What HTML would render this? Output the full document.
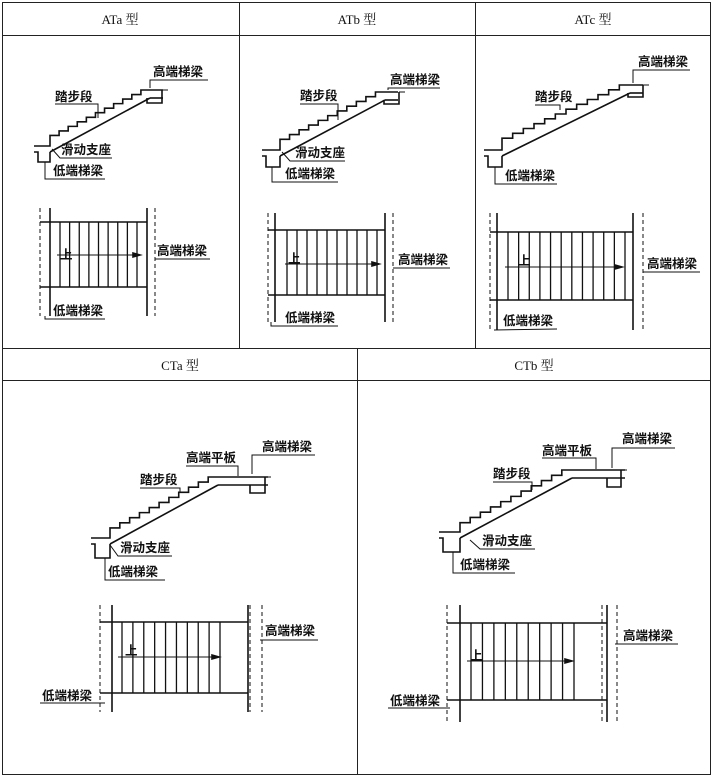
<!DOCTYPE html>
<html><head><meta charset="utf-8"><style>
body{margin:0;background:#fff}
svg{display:block}
text{font-family:"Liberation Serif","Noto Serif CJK SC",serif;font-size:13px;fill:#111}
.h{font-size:13px}
.l{font-family:"Liberation Sans","Noto Sans CJK SC",sans-serif;font-size:12.5px;font-weight:bold}
</style></head><body>
<svg id="s" width="713" height="777" viewBox="0 0 713 777" xmlns="http://www.w3.org/2000/svg">
<g fill="none" stroke="#222" stroke-width="1">
<rect x="2.5" y="2.5" width="708" height="772"/>
<line x1="2" y1="35.5" x2="711" y2="35.5"/>
<line x1="2" y1="348.5" x2="711" y2="348.5"/>
<line x1="2" y1="380.5" x2="711" y2="380.5"/>
<line x1="239.5" y1="2" x2="239.5" y2="348"/>
<line x1="475.5" y1="2" x2="475.5" y2="348"/>
<line x1="357.5" y1="348" x2="357.5" y2="775"/>
</g>
<text class="h" x="120" y="24" text-anchor="middle">ATa 型</text>
<text class="h" x="357" y="24" text-anchor="middle">ATb 型</text>
<text class="h" x="593" y="24" text-anchor="middle">ATc 型</text>
<text class="h" x="180" y="370" text-anchor="middle">CTa 型</text>
<text class="h" x="534" y="370" text-anchor="middle">CTb 型</text>
<g id="d" fill="none" stroke="#111" stroke-width="1.6"></g>
<!-- labels -->
<text class="l" x="153" y="76">高端梯梁</text>
<text class="l" x="55" y="101">踏步段</text>
<text class="l" x="61" y="154">滑动支座</text>
<text class="l" x="53" y="175">低端梯梁</text>
<text class="l" x="157" y="255">高端梯梁</text>
<text class="l" x="53" y="315">低端梯梁</text>

<text class="l" x="390" y="84">高端梯梁</text>
<text class="l" x="300" y="100">踏步段</text>
<text class="l" x="295" y="157">滑动支座</text>
<text class="l" x="285" y="178">低端梯梁</text>
<text class="l" x="398" y="264">高端梯梁</text>
<text class="l" x="285" y="322">低端梯梁</text>

<text class="l" x="638" y="66">高端梯梁</text>
<text class="l" x="535" y="101">踏步段</text>
<text class="l" x="505" y="180">低端梯梁</text>
<text class="l" x="647" y="268">高端梯梁</text>
<text class="l" x="503" y="325">低端梯梁</text>

<text class="l" x="262" y="451">高端梯梁</text>
<text class="l" x="186" y="462">高端平板</text>
<text class="l" x="140" y="484">踏步段</text>
<text class="l" x="120" y="552">滑动支座</text>
<text class="l" x="108" y="576">低端梯梁</text>
<text class="l" x="265" y="635">高端梯梁</text>
<text class="l" x="42" y="700">低端梯梁</text>

<text class="l" x="622" y="443">高端梯梁</text>
<text class="l" x="542" y="455">高端平板</text>
<text class="l" x="493" y="478">踏步段</text>
<text class="l" x="482" y="545">滑动支座</text>
<text class="l" x="460" y="569">低端梯梁</text>
<text class="l" x="623" y="640">高端梯梁</text>
<text class="l" x="390" y="705">低端梯梁</text>

<text class="l" x="60" y="259">上</text>
<text class="l" x="288" y="263">上</text>
<text class="l" x="518" y="265">上</text>
<text class="l" x="125" y="655">上</text>
<text class="l" x="470" y="660">上</text>
</svg>
<script>
var g=document.getElementById('d'),NS='http://www.w3.org/2000/svg';
function L(x1,y1,x2,y2,o){var e=document.createElementNS(NS,'line');e.setAttribute('x1',x1);e.setAttribute('y1',y1);e.setAttribute('x2',x2);e.setAttribute('y2',y2);if(o&&o.d)e.setAttribute('stroke-dasharray','4,3');if(o&&o.w)e.setAttribute('stroke-width',o.w);g.appendChild(e);}
function P(pts,w){var e=document.createElementNS(NS,'polyline');e.setAttribute('points',pts.join(' '));if(w)e.setAttribute('stroke-width',w);g.appendChild(e);}
// section: lb=[x,y] low beam top-left, n steps, from (sx,sy) to (ex,ey), landing to lx
function sect(bx,by,bw,bh,sx,sy,ex,ey,n,lx,tbx,tbw,tbh){
 var pts=[bx-4,by,bx,by,bx,by-5,sx,by-5,sx,sy];
 var dx=(ex-sx)/n,dy=(sy-ey)/n,x=sx,y=sy;
 pts=[[bx-4,by],[sx,by]];
 pts=[];pts.push(bx-4+','+by);pts.push(sx+','+by);
 for(var i=0;i<n;i++){pts.push(x+','+(y-dy));x+=dx;pts.push(x+','+(y-dy));y-=dy;}
 pts.push(lx+','+ey);
 P(pts);
 // slab
 L(bx+bw,by+6,ex+ (lx>ex?0:dx*0.5), ey+8);
 if(lx>ex) L(ex,ey+8,lx,ey+8);
 // low beam
 P([ (bx-4)+','+(by+6), bx+','+(by+6), bx+','+(by+bh), (bx+bw)+','+(by+bh),(bx+bw)+','+(by+6)]);
 // top beam
 P([tbx+','+(ey+8),tbx+','+(ey+tbh),(tbx+tbw)+','+(ey+tbh),(tbx+tbw)+','+ey]);
 L(tbx+tbw,ey,tbx+tbw+6,ey,{w:1});
}
function plan(xl,xr,yt,yb,y1,y2,dl,dr,t0,t1,nt,ay,ax1,ax2,dr2){
 L(xl,yt,xl,yb);L(xr,yt,xr,yb);
 L(dl,yt,dl,yb,{d:1,w:1});L(dr,yt,dr,yb,{d:1,w:1});if(dr2)L(dr2,yt,dr2,yb,{d:1,w:1});
 L(Math.min(dl,xl),y1,xr,y1);L(Math.min(dl,xl),y2,xr,y2);
 for(var i=0;i<nt;i++){var x=t0+(t1-t0)*i/(nt-1);L(x,y1,x,y2,{w:1.3});}
 L(ax1,ay,ax2,ay,{w:1});
 var p=document.createElementNS(NS,'polygon');p.setAttribute('points',ax2+','+(ay-2)+' '+(ax2+7)+','+ay+' '+ax2+','+(ay+2));p.setAttribute('fill','#111');g.appendChild(p);
}
function leader(pts){P(pts,1);}
// ATa
sect(38,146,12,16,50,140,150,90,11,163,147,15,13);
plan(50,147,208,316,222,287,40,155,60,137,9,255,57,133);
leader(['150,88','150,80','208,80']);leader(['98,118','98,104','55,104']);leader(['52,149','60,158','112,158']);leader(['45,162','45,179','105,179']);
leader(['155,259','210,259']);leader(['45,316','45,319','105,319']);
// ATb
sect(266,150,14,17,280,144,385,92,11,398,384,15,12);
plan(275,385,213,322,230,295,268,393,287,377,10,264,285,372);
leader(['388,90','388,88','440,88']);leader(['338,120','338,104','300,104']);leader(['282,152','290,161','345,161']);leader(['272,167','272,182','338,182']);
leader(['393,268','450,268']);leader(['271,322','271,326','338,326']);
// ATc
sect(488,150,14,17,502,143,630,85,12,643,628,15,12);
plan(497,633,213,330,232,300,490,643,508,625,12,267,505,615);
leader(['633,83','633,70','690,70']);leader(['560,110','560,105','535,105']);leader(['495,167','495,184','557,184']);
leader(['643,272','700,272']);leader(['494,330','494,330','557,329']);
// CTa
sect(95,538,15,20,110,533,218,477,11,268,250,15,16);
plan(112,248,605,712,622,693,100,250,122,220,10,657,118,212,262);
leader(['252,474','252,455','315,455']);leader(['238,476','238,466','186,466']);leader(['180,492','180,488','140,488']);
leader(['110,545','118,556','172,556']);leader(['105,558','105,580','165,580']);leader(['260,640','318,640']);leader(['40,703','105,703']);
// CTb
sect(443,532,17,20,460,528,572,470,11,625,607,14,17);
plan(460,607,605,722,623,700,447,602,471,574,10,661,467,565,617);
leader(['612,468','612,448','675,448']);leader(['596,469','596,458','542,458']);leader(['532,490','532,482','493,482']);
leader(['470,540','480,549','535,549']);leader(['453,552','453,573','515,573']);leader(['615,644','678,644']);leader(['388,708','450,708']);
</script>
</body></html>
